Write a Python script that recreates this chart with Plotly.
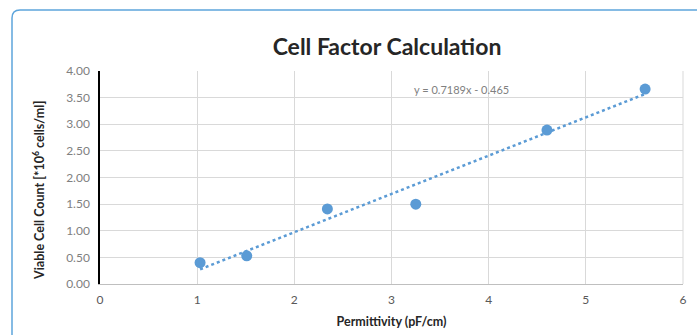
import plotly.graph_objects as go
import numpy as np

permittivity = [1.03, 1.51, 2.34, 3.25, 4.60, 5.61]
viable_cells = [0.40, 0.53, 1.41, 1.50, 2.89, 3.66]
trend_slope = 0.7189
trend_intercept = -0.465
x_ticks = [0, 1, 2, 3, 4, 5, 6]
y_ticks = [0, 0.5, 1.0, 1.5, 2.0, 2.5, 3.0, 3.5, 4.0]

blue = "#5B9BD5"
grid = "#D9D9D9"
font_family = "Lato, 'Open Sans', sans-serif"

tx = np.array([min(permittivity), max(permittivity)])
ty = trend_slope * tx + trend_intercept

fig = go.Figure()
fig.add_trace(go.Scatter(x=tx, y=ty, mode="lines",
                         line=dict(color=blue, width=2.5, dash="dot"),
                         hoverinfo="skip", showlegend=False))
fig.add_trace(go.Scatter(x=permittivity, y=viable_cells, mode="markers",
                         marker=dict(color=blue, size=11),
                         showlegend=False))

W, H = 697, 335
L, R, T, B = 100, 14, 71, 51
pw, ph = W - L - R, H - T - B

def px(p):
    return (p - L) / pw

def py(q):
    return (H - B - q) / ph

x0, x1 = px(12), px(710)
y0, y1 = py(10), py(350)
rx, ry = 8 / pw, 8 / ph
path = (f"M {x0+rx},{y0} L {x1},{y0} L {x1},{y1} L {x0},{y1} L {x0},{y0-ry} "
        f"Q {x0},{y0} {x0+rx},{y0} Z")
fig.add_shape(type="path", path=path, xref="paper", yref="paper",
              line=dict(color="#5DA5DC", width=1.5), fillcolor="rgba(0,0,0,0)",
              layer="below")

fig.add_annotation(x=px(461), y=py(89), xref="paper", yref="paper",
                   xanchor="center", yanchor="middle",
                   text=f"y = {trend_slope}x - {abs(trend_intercept)}",
                   showarrow=False, font=dict(family=font_family, size=11, color="#808080"))

fig.add_annotation(x=px(38), y=py(191), xref="paper", yref="paper",
                   xanchor="center", yanchor="middle",
                   text="<b>Viable Cell Count [*10<sup>6</sup> cells/ml]</b>",
                   textangle=-90, showarrow=False,
                   font=dict(family=font_family, size=12.5, color="#262626"))

fig.update_layout(
    width=W, height=H,
    margin=dict(l=L, r=R, t=T, b=B, autoexpand=False),
    paper_bgcolor="white", plot_bgcolor="white",
    title=dict(text="<b>Cell Factor Calculation</b>", x=387 / W, xanchor="center",
               y=1 - 47 / H, yanchor="middle",
               font=dict(family=font_family, size=23, color="#262626")),
    font=dict(family=font_family),
    xaxis=dict(range=[0, 6], tickvals=x_ticks, showgrid=True, gridcolor=grid, gridwidth=1,
               zeroline=False, showline=True, linecolor="#BFBFBF", linewidth=1, mirror=False,
               tickfont=dict(size=12, color="#595959"), ticks="", ticklabelstandoff=5,
               automargin=False,
               title=dict(text="<b>Permittivity (pF/cm)</b>", standoff=10,
                          font=dict(size=12.5, color="#262626"))),
    yaxis=dict(range=[0, 4], tickvals=y_ticks, tickformat=".2f", showgrid=True,
               gridcolor=grid, gridwidth=1, zeroline=False, showline=True,
               linecolor="black", linewidth=1.5, ticks="", ticklabelstandoff=6,
               automargin=False,
               tickfont=dict(size=12, color="#808080")),
)
fig.add_shape(type="line", xref="paper", yref="paper", x0=1, x1=1, y0=0, y1=1,
              line=dict(color=grid, width=1))

fig.write_html("out.html", config={"displayModeBar": False},
               post_script="document.body.style.margin='0';document.body.style.padding='0';")
